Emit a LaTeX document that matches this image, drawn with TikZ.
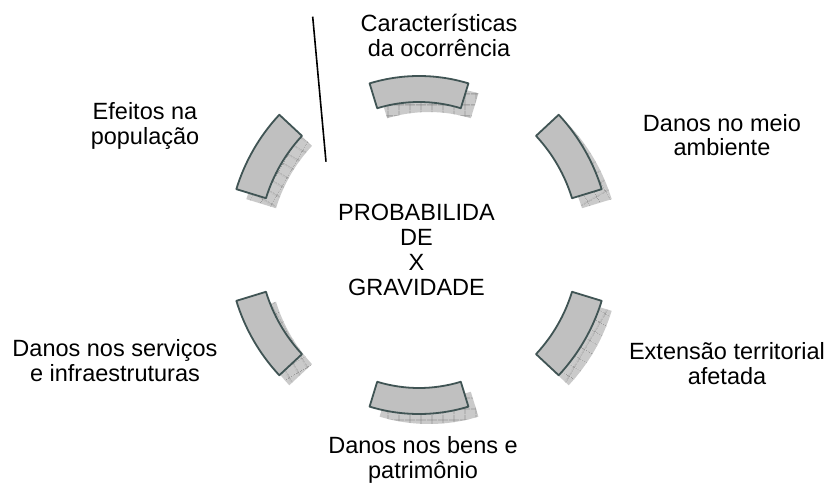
\documentclass[tikz,border=0pt]{standalone}
\usepackage{fontspec}
\setmainfont{Liberation Sans}
\usetikzlibrary{patterns.meta,calc}
\definecolor{segfill}{RGB}{192,192,192}
\definecolor{segline}{RGB}{64,84,84}
\definecolor{shfill}{RGB}{202,202,202}
\definecolor{shline}{RGB}{150,150,150}
\newcommand\lbl[1]{\begin{tabular}[t]{@{}c@{}}#1\end{tabular}}
% #1 start angle, #2 end angle, #3 inner radius, #4 outer radius, #5 hatch angle
\newcommand\arcseg[5]{%
  \path[preaction={fill=shfill}, pattern={Hatch[angle=#5,distance=10.5pt,line width=0.8pt]}, pattern color=shline]
    ($(Cs)+(#1:#4)$) arc[start angle=#1,end angle=#2,radius=#4]
    -- ($(Cs)+(#2:#3)$) arc[start angle=#2,end angle=#1,radius=#3] -- cycle;
  \draw[segbox]
    ($(C)+(#1:#4)$) arc[start angle=#1,end angle=#2,radius=#4]
    -- ($(C)+(#2:#3)$) arc[start angle=#2,end angle=#1,radius=#3] -- cycle;
}
\begin{document}
\begin{tikzpicture}[x=1pt,y=1pt,
  segbox/.style={draw=segline, fill=segfill, line width=1.8pt, line join=round},
  lab/.style={font=\fontsize{23.5}{25}\selectfont, inner sep=0pt, anchor=base}]
\fill[white] (0,0) rectangle (833,483);
\useasboundingbox (0,0) rectangle (833,483);
\coordinate (C) at (419,238);
\coordinate (Cs) at (429,228);
% segments
\arcseg{73}{107}{143}{169}{0}
\arcseg{17}{43}{160}{191}{-60}
\arcseg{137}{163}{160}{191}{60}
\arcseg{197}{223}{160}{191}{30}
\arcseg{-43}{-17}{160}{191}{-30}
\arcseg{253}{287}{143}{169}{0}
% line
\coordinate (lt) at (312.7,466.3);
\coordinate (lb) at (326,321.3);
\draw[line width=1.6pt] (lt) -- (lb);
% labels
\node[lab] (t1) at (439,451.5) {\lbl{Características\\da ocorrência}};
\node[lab] (t2) at (722,352) {\lbl{Danos no meio\\ambiente}};
\node[lab] (t3) at (145,363) {\lbl{Efeitos na\\população}};
\node[lab] (t4) at (115,127) {\lbl{Danos nos serviços\\e infraestruturas}};
\node[lab] (t5) at (727,124) {\lbl{Extensão territorial\\afetada}};
\node[lab] (t6) at (423,30) {\lbl{Danos nos bens e\\patrimônio}};
\node[lab] (ct) at (416.5,262.5) {\lbl{PROBABILIDA\\DE\\X\\GRAVIDADE}};
\end{tikzpicture}
\end{document}
